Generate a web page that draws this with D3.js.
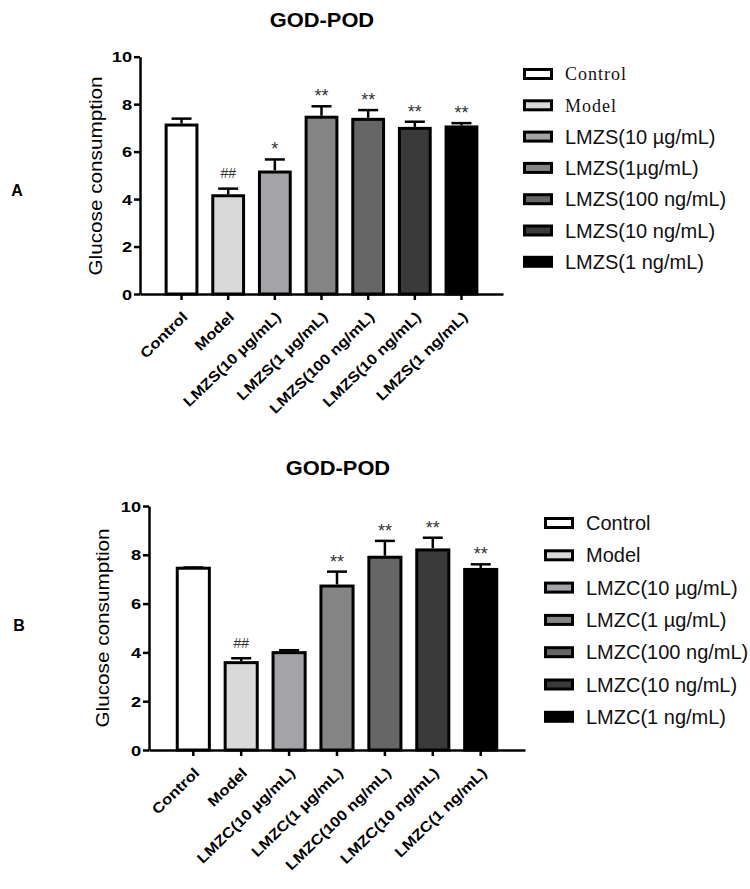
<!DOCTYPE html>
<html><head><meta charset="utf-8">
<script src="https://cdn.jsdelivr.net/npm/d3@7"></script>
<style>body{margin:0;background:#fff}svg{display:block}</style>
</head><body>
<svg id="chart" width="750" height="889"></svg>
<script>
// ---------- data ----------
const categoriesA = ["Control","Model","LMZS(10 µg/mL)","LMZS(1 µg/mL)","LMZS(100 ng/mL)","LMZS(10 ng/mL)","LMZS(1 ng/mL)"];
const legendA = ["Control","Model","LMZS(10 µg/mL)","LMZS(1µg/mL)","LMZS(100 ng/mL)","LMZS(10 ng/mL)","LMZS(1 ng/mL)"];
const valuesA = [7.12, 4.14, 5.14, 7.45, 7.36, 6.98, 7.04];
const errorsA = [0.27, 0.30, 0.53, 0.46, 0.39, 0.28, 0.16];
const marksA  = ["", "##", "*", "**", "**", "**", "**"];

const categoriesB = ["Control","Model","LMZC(10 µg/mL)","LMZC(1 µg/mL)","LMZC(100 ng/mL)","LMZC(10 ng/mL)","LMZC(1 ng/mL)"];
const legendB = ["Control","Model","LMZC(10 µg/mL)","LMZC(1 µg/mL)","LMZC(100 ng/mL)","LMZC(10 ng/mL)","LMZC(1 ng/mL)"];
const valuesB = [7.45, 3.58, 3.99, 6.72, 7.90, 8.20, 7.40];
const errorsB = [0.03, 0.18, 0.10, 0.59, 0.67, 0.50, 0.21];
const marksB  = ["", "##", "", "**", "**", "**", "**"];

const yTicks = [0, 2, 4, 6, 8, 10];
const title = "GOD-POD";
const yLabel = "Glucose consumption";
const fills = ["#ffffff", "#d9d9d9", "#a4a4a8", "#858585", "#666666", "#3a3a3a", "#000000"];

// ---------- layout ----------
const SANS = "'Liberation Sans', Arial, Helvetica, sans-serif";
const svg = d3.select("#chart");

const panels = [
  {cats: categoriesA, legend: legendA, vals: valuesA, errs: errorsA, marks: marksA, tag: "A",
   x0: 140, x1: 503, yTop: 56.7, yBot: 294, po: 0.56, pi: 0.34,
   titleX: 322, titleY: 27, labX: 96, labY: 176, tagX: 17, tagY: 196,
   legX: 523, legY: 74, legStep: 31.3, legTextX: 565, serifFirst: true},
  {cats: categoriesB, legend: legendB, vals: valuesB, errs: errorsB, marks: marksB, tag: "B",
   x0: 149, x1: 525, yTop: 506, yBot: 750, po: 0.59, pi: 0.33,
   titleX: 338, titleY: 475, labX: 103, labY: 628, tagX: 19, tagY: 631,
   legX: 544, legY: 523, legStep: 32.3, legTextX: 586, serifFirst: false}
];

panels.forEach(p => {
  const g = svg.append("g");
  const x = d3.scaleBand().domain(p.cats).range([p.x0, p.x1]).paddingInner(p.pi).paddingOuter(p.po);
  const y = d3.scaleLinear().domain([0, 10]).range([p.yBot, p.yTop]);

  // bars
  g.selectAll("rect.bar").data(p.cats).join("rect")
    .attr("x", d => x(d)).attr("width", x.bandwidth())
    .attr("y", (d, i) => y(p.vals[i]))
    .attr("height", (d, i) => y(0) - y(p.vals[i]))
    .attr("fill", (d, i) => fills[i]).attr("stroke", "#000").attr("stroke-width", 3);

  // error bars (upper only)
  p.cats.forEach((d, i) => {
    const cx = x(d) + x.bandwidth() / 2;
    const yt = y(p.vals[i] + p.errs[i]);
    g.append("line").attr("x1", cx).attr("x2", cx).attr("y1", y(p.vals[i]) - 1.5).attr("y2", yt)
      .attr("stroke", "#000").attr("stroke-width", 2.5);
    g.append("line").attr("x1", cx - 10).attr("x2", cx + 10).attr("y1", yt).attr("y2", yt)
      .attr("stroke", "#000").attr("stroke-width", 2.5);
    const m = p.marks[i];
    if (m) {
      const isHash = m.startsWith("#");
      g.append("text").attr("x", cx).attr("y", isHash ? yt - 10.5 : yt - 4)
        .attr("text-anchor", "middle").attr("font-family", SANS)
        .attr("font-size", isHash ? 14 : 18).attr("fill", "#333").text(m);
    }
  });

  // y axis
  const ya = g.append("g").attr("transform", `translate(${p.x0},0)`)
    .call(d3.axisLeft(y).tickValues(yTicks).tickSize(6).tickSizeOuter(0).tickPadding(3));
  ya.select(".domain").attr("stroke-width", 2.5);
  ya.selectAll(".tick line").attr("stroke-width", 2.5);
  ya.selectAll(".tick text").attr("font-family", SANS).attr("font-size", 14).attr("font-weight", "bold")
    .attr("fill", "#000").attr("x", 0).attr("dy", "0.36em")
    .attr("transform", "translate(-8,0) scale(1.3,1)");

  // x axis
  const xa = g.append("g").attr("transform", `translate(0,${p.yBot})`)
    .call(d3.axisBottom(x).tickSize(6).tickSizeOuter(0));
  xa.select(".domain").attr("stroke-width", 2.5);
  xa.selectAll(".tick line").attr("stroke-width", 2.5);
  xa.selectAll(".tick text").attr("font-family", SANS).attr("font-size", 14.5).attr("font-weight", "bold")
    .attr("fill", "#000").attr("x", 0).attr("y", 0).attr("dy", 0)
    .attr("text-anchor", "end")
    .attr("transform", "translate(7,24) rotate(-44) scale(1.15,1)");

  // title
  g.append("text").attr("transform", `translate(${p.titleX},${p.titleY}) scale(1.12,1)`)
    .attr("text-anchor", "middle").attr("font-family", SANS).attr("font-weight", "bold")
    .attr("font-size", 19.5).attr("fill", "#000").text(title);

  // y label
  g.append("text").attr("transform", `translate(${p.labX},${p.labY}) rotate(-90) scale(1.12,1)`)
    .attr("text-anchor", "middle").attr("dy", "0.35em").attr("font-family", SANS)
    .attr("font-size", 18.5).attr("fill", "#000").text(yLabel);

  // panel tag
  g.append("text").attr("x", p.tagX).attr("y", p.tagY).attr("text-anchor", "middle")
    .attr("font-family", SANS).attr("font-weight", "bold").attr("font-size", 16).text(p.tag);

  // legend
  const lg = g.append("g");
  p.legend.forEach((name, i) => {
    const cy = p.legY + i * p.legStep;
    lg.append("rect").attr("x", p.legX + 1.5).attr("y", cy - 4.5).attr("width", 27).attr("height", 9)
      .attr("fill", fills[i]).attr("stroke", "#000").attr("stroke-width", 3);
    const serif = p.serifFirst && i < 2;
    lg.append("text").attr("x", p.legTextX).attr("y", cy).attr("dy", "0.35em")
      .attr("font-family", serif ? "'Liberation Serif', 'Times New Roman', serif" : SANS)
      .attr("font-size", serif ? 18 : 20).attr("letter-spacing", serif ? 1 : 0)
      .attr("fill", "#111").text(name);
  });
});
</script>
</body></html>
